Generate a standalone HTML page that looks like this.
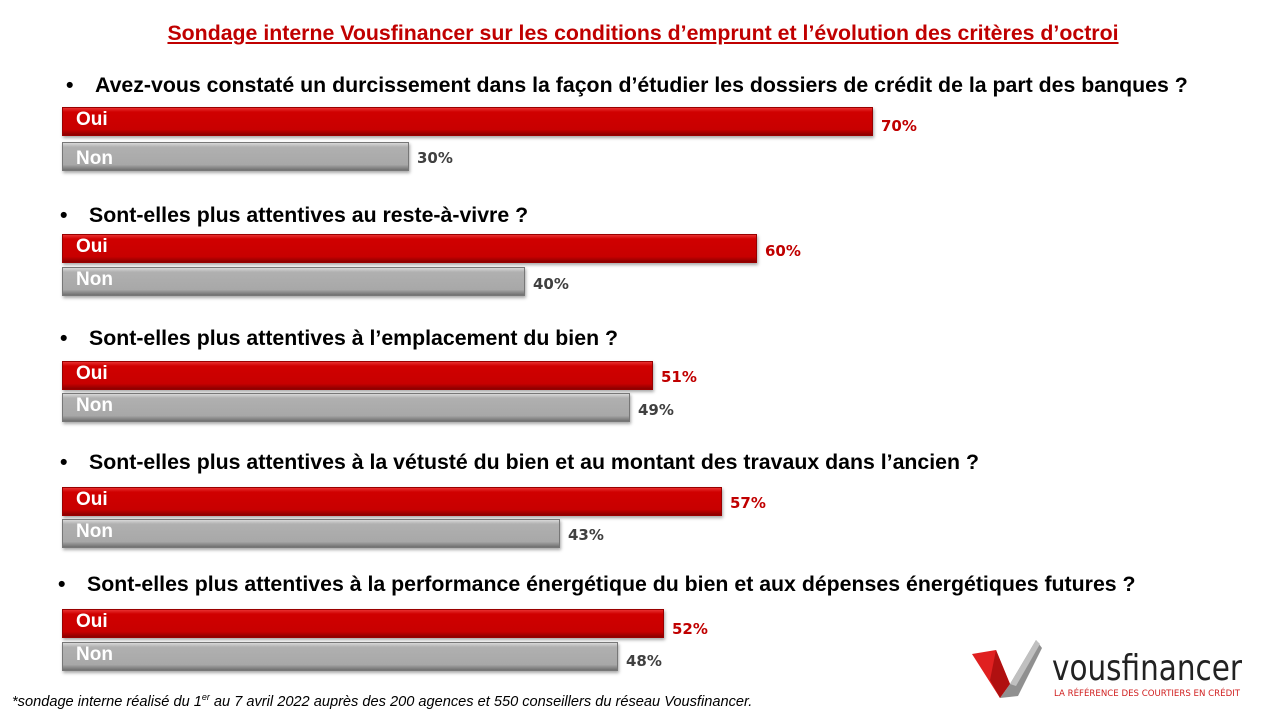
<!DOCTYPE html><html><head><style>
body{margin:0;width:1280px;height:720px;background:#fff;position:relative;overflow:hidden;font-family:"Liberation Sans",sans-serif}
.t{position:absolute;left:0;width:1286px;top:21px;text-align:center;font-weight:bold;font-size:21.3px;color:#c00000;text-decoration:underline;white-space:nowrap}
.q{position:absolute;font-weight:bold;font-size:21.3px;color:#000;white-space:nowrap}
.q i{font-style:normal;display:inline-block;width:29px}
.b{position:absolute;left:62px;height:29px;box-sizing:border-box;box-shadow:1px 2px 3px rgba(0,0,0,.35)}
.r{background:linear-gradient(#e83030 0,#d00000 15%,#c80000 80%,#8a0000 100%);border:1px solid #900}
.g{background:linear-gradient(#d8d8d8 0,#b0b0b0 15%,#a8a8a8 80%,#707070 100%);border:1px solid #777}
.b span{position:absolute;left:13px;top:1px;color:#fff;font-weight:bold;font-size:19px}
.p{position:absolute;font-weight:bold;font-size:15px;font-family:"DejaVu Sans",sans-serif}
.pr{color:#c00000}.pg{color:#404040}
</style></head><body>
<div class="t">Sondage interne Vousfinancer sur les conditions d’emprunt et l’évolution des critères d’octroi</div>
<div class="q" style="left:66px;top:73px"><i>•</i>Avez-vous constaté un durcissement dans la façon d’étudier les dossiers de crédit de la part des banques ?</div>
<div class="b r" style="top:107px;width:811px"><span>Oui</span></div><div class="p pr" style="left:881px;top:117px">70%</div>
<div class="b g" style="top:142px;width:347px"><span style="top:5px">Non</span></div><div class="p pg" style="left:417px;top:149px">30%</div>

<div class="q" style="left:60px;top:203px"><i>•</i>Sont-elles plus attentives au reste-à-vivre ?</div>
<div class="b r" style="top:234px;width:695px"><span>Oui</span></div><div class="p pr" style="left:765px;top:242px">60%</div>
<div class="b g" style="top:267px;width:463px"><span>Non</span></div><div class="p pg" style="left:533px;top:275px">40%</div>

<div class="q" style="left:60px;top:326px"><i>•</i>Sont-elles plus attentives à l’emplacement du bien ?</div>
<div class="b r" style="top:361px;width:591px"><span>Oui</span></div><div class="p pr" style="left:661px;top:368px">51%</div>
<div class="b g" style="top:393px;width:568px"><span>Non</span></div><div class="p pg" style="left:638px;top:401px">49%</div>

<div class="q" style="left:60px;top:450px"><i>•</i>Sont-elles plus attentives à la vétusté du bien et au montant des travaux dans l’ancien ?</div>
<div class="b r" style="top:487px;width:660px"><span>Oui</span></div><div class="p pr" style="left:730px;top:494px">57%</div>
<div class="b g" style="top:519px;width:498px"><span>Non</span></div><div class="p pg" style="left:568px;top:526px">43%</div>

<div class="q" style="left:58px;top:572px"><i>•</i>Sont-elles plus attentives à la performance énergétique du bien et aux dépenses énergétiques futures ?</div>
<div class="b r" style="top:609px;width:602px"><span>Oui</span></div><div class="p pr" style="left:672px;top:620px">52%</div>
<div class="b g" style="top:642px;width:556px"><span>Non</span></div><div class="p pg" style="left:626px;top:652px">48%</div>

<div style="position:absolute;left:12px;top:692px;font-size:14.6px;font-style:italic;color:#000;white-space:nowrap">*sondage interne réalisé du 1<sup style="font-size:9px">er</sup> au 7 avril 2022 auprès des 200 agences et 550 conseillers du réseau Vousfinancer.</div>
<svg style="position:absolute;left:970px;top:640px" width="290" height="65">
<polygon points="2,14 26,10 40,44 30,58" fill="#e02020"/>
<polygon points="26,10 40,44 30,58 20,40" fill="#b01010"/>
<polygon points="30,58 40,44 66,0 72,8 48,56" fill="#909090"/>
<polygon points="40,44 66,0 70,4 46,46" fill="#c0c0c0"/>
<text x="82" y="40" font-family="DejaVu Sans,sans-serif" font-size="36" fill="#222" textLength="190" lengthAdjust="spacingAndGlyphs">vousfinancer</text>
<text x="84" y="56" font-family="DejaVu Sans,sans-serif" font-size="9" fill="#d02020" textLength="186" lengthAdjust="spacingAndGlyphs">LA RÉFÉRENCE DES COURTIERS EN CRÉDIT</text>
</svg>
</body></html>
